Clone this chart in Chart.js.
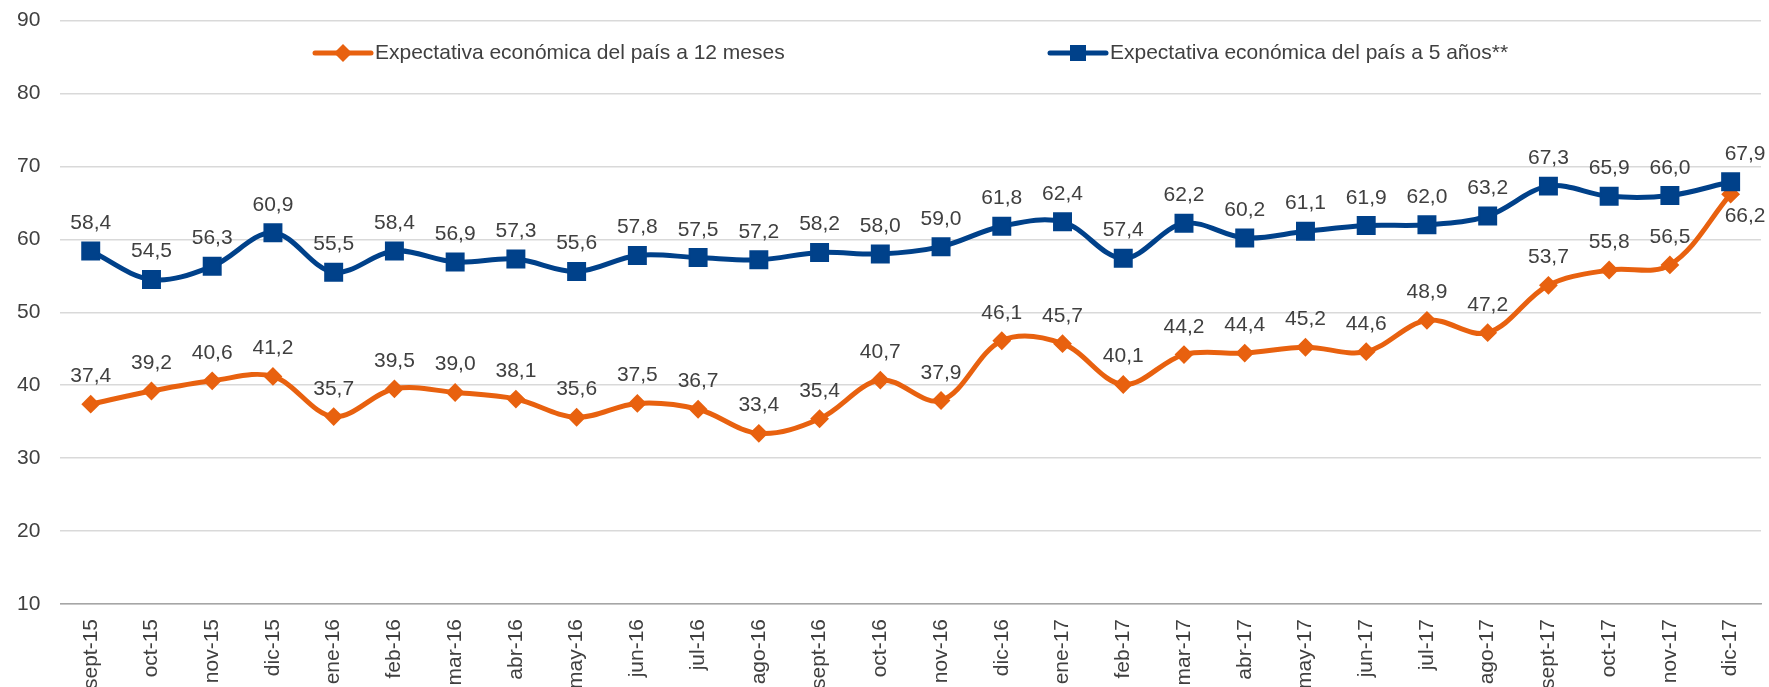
<!DOCTYPE html>
<html>
<head>
<meta charset="utf-8">
<script src="https://cdn.jsdelivr.net/npm/chart.js@4/dist/chart.umd.min.js"></script>
<style>
  html, body { margin: 0; padding: 0; background: #fff; overflow: hidden; }
  /* canvas slightly larger than the window and pulled up/left so the plot area lands where the original has it */
  #wrap { width: 1794px; height: 728px; margin-left: -19px; margin-top: -12px; position: relative; }
</style>
</head>
<body>
<div id="wrap"><canvas id="chart"></canvas></div>
<script>
// months on the x axis
const months = ['sept-15', 'oct-15', 'nov-15', 'dic-15', 'ene-16', 'feb-16', 'mar-16', 'abr-16', 'may-16',
  'jun-16', 'jul-16', 'ago-16', 'sept-16', 'oct-16', 'nov-16', 'dic-16', 'ene-17', 'feb-17', 'mar-17',
  'abr-17', 'may-17', 'jun-17', 'jul-17', 'ago-17', 'sept-17', 'oct-17', 'nov-17', 'dic-17'];

const expectativa12Meses = [37.4, 39.2, 40.6, 41.2, 35.7, 39.5, 39.0, 38.1, 35.6, 37.5, 36.7, 33.4, 35.4, 40.7,
  37.9, 46.1, 45.7, 40.1, 44.2, 44.4, 45.2, 44.6, 48.9, 47.2, 53.7, 55.8, 56.5, 66.2];

const expectativa5Anos = [58.4, 54.5, 56.3, 60.9, 55.5, 58.4, 56.9, 57.3, 55.6, 57.8, 57.5, 57.2, 58.2, 58.0,
  59.0, 61.8, 62.4, 57.4, 62.2, 60.2, 61.1, 61.9, 62.0, 63.2, 67.3, 65.9, 66.0, 67.9];

const seriesNames = ['Expectativa económica del país a 12 meses', 'Expectativa económica del país a 5 años**'];
const yTicks = { min: 10, max: 90, step: 10 };

const ORANGE = '#E8610F';
const BLUE = '#00418A';
const TEXT = '#404040';
const FONT = 'Arial, "Liberation Sans", sans-serif';
const SHIFT_X = 19, SHIFT_Y = 12; // same as the css offset of #wrap

const fmt = v => v.toFixed(1).replace('.', ',');

// value labels above each point (last ones nudged like the original)
const valueLabels = {
  id: 'valueLabels',
  afterDatasetsDraw(chart) {
    const ctx = chart.ctx;
    ctx.save();
    ctx.font = `21px ${FONT}`;
    ctx.fillStyle = TEXT;
    ctx.textBaseline = 'alphabetic';
    chart.data.datasets.forEach((ds, i) => {
      const meta = chart.getDatasetMeta(i);
      meta.data.forEach((pt, j) => {
        const last = j === meta.data.length - 1;
        if (last && i === 0) {
          ctx.textAlign = 'left';
          ctx.fillText(fmt(ds.data[j]), pt.x - 6, pt.y + 28);
        } else if (last) {
          ctx.textAlign = 'left';
          ctx.fillText(fmt(ds.data[j]), pt.x - 6, pt.y - 22);
        } else {
          ctx.textAlign = 'center';
          ctx.fillText(fmt(ds.data[j]), pt.x, pt.y - 22);
        }
      });
    });
    ctx.restore();
  }
};

// legend drawn inside the plot, line + marker like the office chart
const lineLegend = {
  id: 'lineLegend',
  afterDraw(chart) {
    const ctx = chart.ctx;
    const y = 53 + SHIFT_Y;
    const items = [
      { x: 315 + SHIFT_X, color: ORANGE, style: 'diamond', text: seriesNames[0] },
      { x: 1050 + SHIFT_X, color: BLUE, style: 'square', text: seriesNames[1] }
    ];
    ctx.save();
    items.forEach(it => {
      ctx.strokeStyle = it.color;
      ctx.fillStyle = it.color;
      ctx.lineWidth = 5;
      ctx.lineCap = 'round';
      ctx.beginPath();
      ctx.moveTo(it.x, y);
      ctx.lineTo(it.x + 56, y);
      ctx.stroke();
      const cx = it.x + 28;
      ctx.beginPath();
      if (it.style === 'diamond') {
        ctx.moveTo(cx, y - 9); ctx.lineTo(cx + 9, y); ctx.lineTo(cx, y + 9); ctx.lineTo(cx - 9, y);
      } else {
        ctx.rect(cx - 8, y - 8, 16, 16);
      }
      ctx.closePath();
      ctx.fill();
      ctx.fillStyle = TEXT;
      ctx.font = `21px ${FONT}`;
      ctx.textAlign = 'left';
      ctx.textBaseline = 'middle';
      ctx.fillText(it.text, it.x + 60, y);
    });
    ctx.restore();
  }
};

new Chart(document.getElementById('chart'), {
  type: 'line',
  data: {
    labels: months,
    datasets: [
      {
        label: seriesNames[0],
        data: expectativa12Meses,
        borderColor: ORANGE,
        backgroundColor: ORANGE,
        borderWidth: 5,
        pointStyle: 'rectRot',
        pointRadius: 8,
        pointBorderWidth: 2,
        tension: 0.35,
        order: 2
      },
      {
        label: seriesNames[1],
        data: expectativa5Anos,
        borderColor: BLUE,
        backgroundColor: BLUE,
        borderWidth: 5,
        pointStyle: 'rect',
        pointRadius: 12,
        pointBorderWidth: 2,
        tension: 0.35,
        order: 1
      }
    ]
  },
  options: {
    responsive: true,
    maintainAspectRatio: false,
    animation: false,
    layout: { padding: { left: 16, top: 7, right: 6, bottom: 12 } },
    plugins: {
      legend: { display: false },
      tooltip: { enabled: false }
    },
    scales: {
      x: {
        offset: true,
        grid: { display: false, drawTicks: false, offset: true },
        border: { display: true, color: '#a6a6a6', width: 1.5 },
        ticks: {
          color: TEXT, font: { size: 21, family: FONT },
          minRotation: 90, maxRotation: 90, autoSkip: false, padding: 15
        }
      },
      y: {
        min: yTicks.min,
        max: yTicks.max,
        grid: { color: '#d9d9d9', lineWidth: 1.5, drawTicks: false },
        border: { display: false },
        ticks: { stepSize: yTicks.step, color: TEXT, font: { size: 21, family: FONT }, padding: 20 }
      }
    }
  },
  plugins: [valueLabels, lineLegend]
});
</script>
</body>
</html>
